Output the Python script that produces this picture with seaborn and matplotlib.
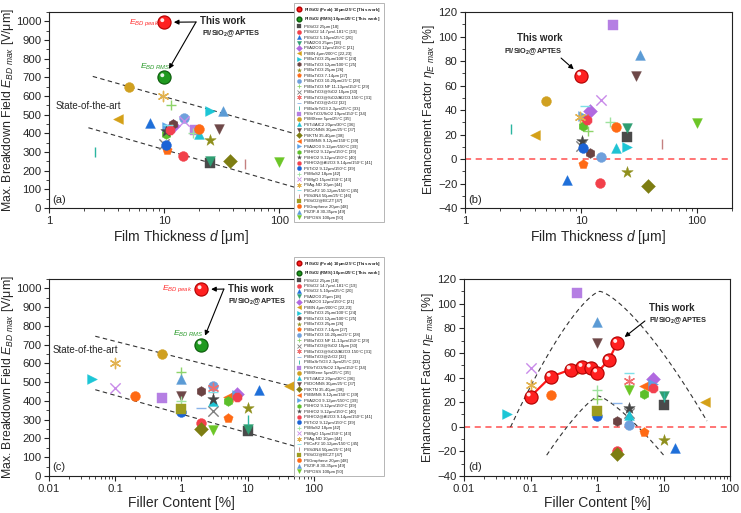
import numpy as np
import matplotlib
matplotlib.use("Agg")
import matplotlib.pyplot as plt
from matplotlib.lines import Line2D
from matplotlib.path import Path
from matplotlib import ticker
import seaborn as sns

# literature data (legend order)
studies = [
    "PI/SiO2 25μm [18]", "PI/SiO2 14.7μm/-181°C [19]", "PI/SiO2 5-10μm/25°C [20]",
    "PI/Al2O3 25μm [18]", "PI/Al2O3 12μm/150°C [21]", "PI/BN 4μm/200°C [22,23]",
    "PI/BaTiO3 25μm/100°C [24]", "PI/BaTiO3 12μm/100°C [25]", "PI/BaTiO3 25μm [26]",
    "PI/BaTiO3 7-14μm [27]", "PI/BaTiO3 10-20μm/25°C [28]", "PI/BaTiO3 NF 11-13μm/150°C [29]",
    "PI/BaTiO3@SiO2 10μm [30]", "PI/BaTiO3@SiO2/Al2O3 150°C [31]", "PI/BaTiO3@ZrO2 [32]",
    "PI/BaSrTiO3 2-3μm/25°C [33]", "PI/SrTiO3/SiO2 19μm/150°C [34]", "PI/MXene 5μm/25°C [35]",
    "PI/Ti3AlC2 20μm/30°C [36]", "PI/DONNS 30μm/25°C [37]", "PI/KTN 35-40μm [38]",
    "PI/BMNS 9-12μm/150°C [39]", "PI/Al2O3 9-12μm/150°C [39]", "PI/HfO2 9-12μm/150°C [39]",
    "PI/HfO2 9-12μm/150°C [40]", "PI/HfO2@Al2O3 9-14μm/150°C [41]", "PI/TiO2 9-12μm/150°C [39]",
    "PI/MoS2 18μm [42]", "PI/MgO 15μm/150°C [43]", "PI/Ag-ND 10μm [44]",
    "PI/CaF2 10-12μm/150°C [45]", "PI/Si3N4 50μm/25°C [46]", "PI/SiO2@BCZT [47]",
    "PI/Graphene 20μm [48]", "PI/ZIF-8 30-35μm [49]", "PI/POSS 100μm [50]",
]
nan = np.nan
thickness = [25, 14.7, 7.5, 25, 12, 4, 25, 12, 25, 10.5, 15, 11.5, 10, nan, nan,
             2.5, 18.7, 5, 20, 30, 37.5, 10.5, 10.5, 10.4, 10.3, 11.3, 10.4,
             17.8, 15, 9.8, 10.8, 50, nan, 20, 32.5, 100]
filler = [10, 2, 15, 10, 7, 42, 0.045, 2, 10, 5, 3, 1, 3, 3, 2,
          10, 0.5, 0.5, 3, 1, 2, 5, 7, 5, 3, 7, 1,
          1, 0.1, 0.1, 3, nan, 1, 0.2, 1, 3]
e_bd = [240, 280, 458, 253, 437, 479, 518, 452, 365, 310, 481, 554, 345, 469, 361,
        298, 416, 648, 398, 424, 251, 423, 432, 398, 410, 420, 339,
        401, 467, 600, 447, 237, 358, 424, 519, 245]
eta = [18, -19.5, -17.5, 25, 39, 20, 10, 5, -11, -4, 1.8, 22.5, 11, 37, 19.5,
       24.5, 109, 47, 9.3, 68, -22, 33, 35, 26.7, 15, 31.5, 9,
       30, 48, 34, 43.5, 12, 12.7, 26, 85, 29.5]

# this work
tw_labels = [r"PI/SiO$_\mathbf{2}$ (Peak) 10μm/25°C [This work]",
             r"PI/SiO$_\mathbf{2}$ (RMS) 10μm/25°C [This work]"]
tw_thickness = 10
tw_filler_best = 2
tw_e_peak = 995
tw_e_rms = 700
tw_eta_best = 68
tw_filler = [0.1, 0.2, 0.4, 0.6, 0.8, 1.0, 1.5, 2.0]
tw_eta = [24.5, 40.5, 46.5, 48.5, 48, 44, 54, 68]

# marker / colour per study
AST = (6, 2, 0)
markers = ['s', 'o', '^', 'v', 'D', '<', '>', 'h', '*', 'p', 'o', '+', 'x', AST, '_',
           '|', 's', 'o', '^', 'v', 'D', '<', '>', 'h', '*', '8', 'o',
           '+', 'x', AST, '_', '|', 's', 'o', '^', 'v']
colors = ['#4a4a4a', '#f2404a', '#1e6fd9', '#2f9e72', '#b169e0', '#d4a017', '#1cc6d6',
          '#6b4343', '#8f8f1c', '#ff6a14', '#6fa0dc', '#8ed46a', '#808080', '#f07070',
          '#8ab4ea', '#2bb5a0', '#b57fe3', '#d0a020', '#1fc3d3', '#6e4848', '#7d7d12',
          '#ff6a14', '#5aa2e8', '#5cbf2a', '#454545', '#f2404f', '#1b63d6', '#9ee29e',
          '#c98ae9', '#e2b24f', '#7ee0e8', '#c48080', '#9c9c20', '#ff6a14', '#5b9bd5',
          '#6cc627']
LINE_MARKERS = ('+', 'x', '_', '|', AST)

sns.set_style("ticks")
plt.rcParams['font.family'] = ['Liberation Sans', 'DejaVu Sans']
plt.rcParams['mathtext.fontset'] = 'custom'
plt.rcParams['mathtext.rm'] = 'Liberation Sans'
plt.rcParams['mathtext.it'] = 'Liberation Sans:italic'
plt.rcParams['mathtext.bf'] = 'Liberation Sans:bold'

# highlight spot for the "sphere" markers
_c = Path.circle(center=(-0.14, 0.16), radius=0.15)
HL = Path(np.vstack([[[0.5, 0.5]], _c.vertices]), np.concatenate([[Path.MOVETO], _c.codes]))


def draw_studies(ax, xs, ys):
    for m, c, x, y in zip(markers, colors, xs, ys):
        if np.isnan(x) or np.isnan(y):
            continue
        if isinstance(m, tuple) or m in LINE_MARKERS:
            sns.scatterplot(x=[x], y=[y], marker=m, color=c, s=55, linewidth=1.0,
                            ax=ax, zorder=3, legend=False)
        else:
            s = 75 if m == '*' else 50
            sns.scatterplot(x=[x], y=[y], marker=m, color=c, edgecolor=c, s=s,
                            linewidth=0.3, ax=ax, zorder=3, legend=False)


def sphere(ax, xs, ys, face, edge, s=90):
    sns.scatterplot(x=xs, y=ys, marker='o', color=face, edgecolor=edge, s=s,
                    linewidth=0.8, ax=ax, zorder=5, legend=False)
    sns.scatterplot(x=xs, y=ys, marker=HL, color='white', edgecolor='none', s=s,
                    alpha=0.9, ax=ax, zorder=6, legend=False)


def guide_line(ax, x0, y0, slope, x1):
    xs = np.geomspace(x0, x1, 50)
    ax.plot(xs, y0 + slope * np.log10(xs / x0), color='#333333', lw=0.8,
            ls=(0, (4, 3)), zorder=2)


def guide_peak(ax, xpk, ypk, a_left, a_right, p, xl, xr):
    xs = np.geomspace(xl, xr, 200)
    u = np.log10(xs / xpk)
    ys = ypk - np.where(u < 0, a_left, a_right) * np.abs(u) ** p
    ax.plot(xs, ys, color='#333333', lw=0.8, ls=(0, (4, 3)), zorder=2)


def style_axis(ax, xlim, ylim, major, minor):
    ax.set_xscale('log')
    ax.set_xlim(*xlim)
    ax.set_ylim(*ylim)
    ax.xaxis.set_major_formatter(ticker.FuncFormatter(lambda v, _: f"{v:g}"))
    ax.yaxis.set_major_locator(ticker.MultipleLocator(major))
    ax.yaxis.set_minor_locator(ticker.MultipleLocator(minor))
    ax.tick_params(which='major', direction='out', length=3.5, width=0.8, labelsize=8.2, pad=2)
    ax.tick_params(which='minor', direction='out', length=2, width=0.6)
    for sp in ax.spines.values():
        sp.set_visible(True)
        sp.set_linewidth(0.8)
        sp.set_color('#222222')


fig = plt.figure(figsize=(7.41, 5.13), dpi=100)
ax_a = fig.add_axes([0.0661, 0.5945, 0.3576, 0.3821])
ax_b = fig.add_axes([0.6275, 0.5945, 0.3603, 0.3821])
ax_c = fig.add_axes([0.0661, 0.0721, 0.3576, 0.3840])
ax_d = fig.add_axes([0.6262, 0.0721, 0.3590, 0.3840])

arrow = dict(arrowstyle='-|>', color='black', lw=0.8, mutation_scale=7)
E_LABEL = r"Max. Breakdown Field $E_{BD\ max}$ [V/μm]"
ETA_LABEL = r"Enhancement Factor $\eta_{E\ max}$ [%]"
YL = dict(fontsize=8.8)

# (a) breakdown field vs thickness
style_axis(ax_a, (1, 200), (0, 1050), 100, 50)
guide_line(ax_a, 2.4, 705, -175, 200)
guide_line(ax_a, 2.2, 430, -178, 200)
draw_studies(ax_a, thickness, e_bd)
sphere(ax_a, [tw_thickness], [tw_e_peak], '#ff2020', '#b00000')
sphere(ax_a, [tw_thickness], [tw_e_rms], '#1f9a1f', '#0a5a0a')
ax_a.set_xlabel("Film Thickness $d$ [μm]", fontsize=10, labelpad=2)
ax_a.set_ylabel(E_LABEL, **YL)
ax_a.yaxis.set_label_coords(-0.125, 0.5)
ax_a.text(0.415, 0.944, r"$E_{BD\ peak}$", color='#ff3030', fontsize=6, ha='right', va='center', transform=ax_a.transAxes)
ax_a.text(0.40, 0.72, r"$E_{BD\ RMS}$", color='#2a9a2a', fontsize=6, ha='center', va='center', transform=ax_a.transAxes)
ax_a.text(0.57, 0.954, "This work", fontsize=7, fontweight='bold', va='center', transform=ax_a.transAxes)
ax_a.text(0.577, 0.888, r"PI/SiO$_\mathbf{2}$@APTES", fontsize=5.3, fontweight='bold', va='center', transform=ax_a.transAxes)
ax_a.annotate("", xy=(tw_thickness, tw_e_peak), xytext=(0.555, 0.949), textcoords='axes fraction',
              arrowprops=dict(arrow, shrinkA=0, shrinkB=7))
ax_a.annotate("", xy=(tw_thickness, tw_e_rms), xytext=(0.555, 0.949), textcoords='axes fraction',
              arrowprops=dict(arrow, shrinkA=0, shrinkB=7))
ax_a.text(0.025, 0.52, "State-of-the-art", fontsize=7, va='center', transform=ax_a.transAxes)
ax_a.text(0.012, 0.04, "(a)", fontsize=8, va='center', transform=ax_a.transAxes)

# (b) enhancement factor vs thickness
style_axis(ax_b, (1, 200), (-40, 120), 20, 10)
ax_b.axhline(0, color='#ff5050', lw=1.1, ls=(0, (4, 3)), zorder=1)
draw_studies(ax_b, thickness, eta)
sphere(ax_b, [tw_thickness], [tw_eta_best], '#ff2020', '#b00000')
ax_b.set_xlabel("Film Thickness $d$ [μm]", fontsize=10, labelpad=2)
ax_b.set_ylabel(ETA_LABEL, **YL)
ax_b.yaxis.set_label_coords(-0.105, 0.5)
ax_b.text(0.28, 0.867, "This work", fontsize=7, fontweight='bold', ha='center', va='center', transform=ax_b.transAxes)
ax_b.text(0.255, 0.796, r"PI/SiO$_\mathbf{2}$@APTES", fontsize=5.3, fontweight='bold', ha='center', va='center', transform=ax_b.transAxes)
ax_b.annotate("", xy=(tw_thickness, tw_eta_best), xytext=(0.36, 0.765), textcoords='axes fraction',
              arrowprops=dict(arrow, shrinkA=0, shrinkB=7))
ax_b.text(0.012, 0.04, "(b)", fontsize=8, va='center', transform=ax_b.transAxes)

# (c) breakdown field vs filler content
style_axis(ax_c, (0.01, 100), (0, 1050), 100, 50)
guide_line(ax_c, 0.05, 745, -90, 100)
guide_line(ax_c, 0.05, 460, -100, 100)
draw_studies(ax_c, filler, e_bd)
sphere(ax_c, [tw_filler_best], [tw_e_peak], '#ff2020', '#b00000')
sphere(ax_c, [tw_filler_best], [tw_e_rms], '#1f9a1f', '#0a5a0a')
ax_c.set_xlabel("Filler Content [%]", fontsize=10, labelpad=2)
ax_c.set_ylabel(E_LABEL, **YL)
ax_c.yaxis.set_label_coords(-0.125, 0.5)
ax_c.text(0.54, 0.949, r"$E_{BD\ peak}$", color='#ff3030', fontsize=6, ha='right', va='center', transform=ax_c.transAxes)
ax_c.text(0.525, 0.72, r"$E_{BD\ RMS}$", color='#2a9a2a', fontsize=6, ha='center', va='center', transform=ax_c.transAxes)
ax_c.text(0.675, 0.949, "This work", fontsize=7, fontweight='bold', va='center', transform=ax_c.transAxes)
ax_c.text(0.675, 0.883, r"PI/SiO$_\mathbf{2}$@APTES", fontsize=5.3, fontweight='bold', va='center', transform=ax_c.transAxes)
ax_c.annotate("", xy=(tw_filler_best, tw_e_peak), xytext=(0.66, 0.949), textcoords='axes fraction',
              arrowprops=dict(arrow, shrinkA=0, shrinkB=7))
ax_c.annotate("", xy=(tw_filler_best, tw_e_rms), xytext=(0.66, 0.949), textcoords='axes fraction',
              arrowprops=dict(arrow, shrinkA=0, shrinkB=7))
ax_c.text(0.015, 0.64, "State-of-the-art", fontsize=7, va='center', transform=ax_c.transAxes)
ax_c.text(0.012, 0.046, "(c)", fontsize=8, va='center', transform=ax_c.transAxes)

# (d) enhancement factor vs filler content
style_axis(ax_d, (0.01, 100), (-40, 120), 20, 10)
ax_d.axhline(0, color='#ff5050', lw=1.1, ls=(0, (4, 3)), zorder=1)
guide_peak(ax_d, 1.1, 110, 73, 54, 1.4, 0.05, 45)
guide_peak(ax_d, 1.05, 25, 66.6, 49.3, 1.3, 0.175, 10)
draw_studies(ax_d, filler, eta)
sns.lineplot(x=tw_filler, y=tw_eta, color='#ff1a1a', lw=1.6, ax=ax_d, zorder=4, legend=False)
sphere(ax_d, tw_filler, tw_eta, '#ff2020', '#b00000')
ax_d.set_xlabel("Filler Content [%]", fontsize=10, labelpad=2)
ax_d.set_ylabel(ETA_LABEL, **YL)
ax_d.yaxis.set_label_coords(-0.105, 0.5)
ax_d.text(0.695, 0.853, "This work", fontsize=7, fontweight='bold', va='center', transform=ax_d.transAxes)
ax_d.text(0.695, 0.787, r"PI/SiO$_\mathbf{2}$@APTES", fontsize=5.3, fontweight='bold', va='center', transform=ax_d.transAxes)
ax_d.annotate("", xy=(tw_filler[-1], tw_eta[-1]), xytext=(0.68, 0.787), textcoords='axes fraction',
              arrowprops=dict(arrow, shrinkA=0, shrinkB=7))
ax_d.text(0.015, 0.046, "(d)", fontsize=8, va='center', transform=ax_d.transAxes)

# legends (one per row of panels)
handles = [Line2D([], [], marker='o', color='#ff2020', mec='#b00000', ls='none', ms=3.4),
           Line2D([], [], marker='o', color='#1f9a1f', mec='#0a5a0a', ls='none', ms=3.4)]
for m, c in zip(markers, colors):
    lw = 0.6 if (isinstance(m, tuple) or m in LINE_MARKERS) else 0.2
    handles.append(Line2D([], [], marker=m, color=c, mec=c, ls='none', ms=3.1, mew=lw))
labels = tw_labels + studies
for y0 in (0.994, 0.499):
    leg = fig.legend(handles, labels, loc='upper left', bbox_to_anchor=(0.397, y0),
                     fontsize=3.1, frameon=True, framealpha=1, edgecolor='#aaaaaa',
                     fancybox=False, borderpad=0.6, labelspacing=0.34, handlelength=1.0,
                     handleheight=0.6, handletextpad=0.7, borderaxespad=0)
    leg.get_frame().set_linewidth(0.6)
    for t in leg.get_texts()[:2]:
        t.set_fontweight('bold')

fig.savefig("out.png", dpi=100)
